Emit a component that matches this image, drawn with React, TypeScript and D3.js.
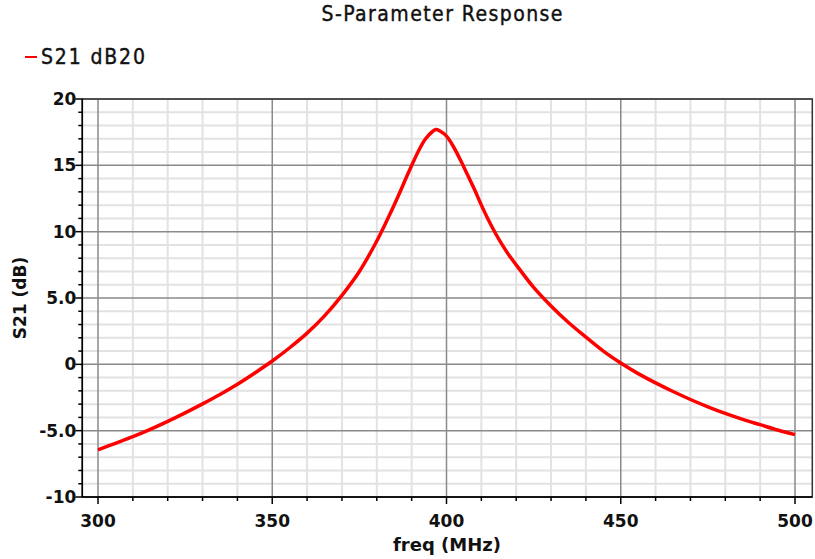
import React from "react";
import * as d3 from "d3";

const freqs = [300,305,310,315,320,325,330,335,340,345,350,355,360,365,370,375,380,383,386,389,392,394,396,397,398,400,402,404,406,408,410,412,414,416,418,420,425,430,435,440,445,450,455,460,465,470,475,480,485,490,495,500];
const s21 = [-6.45,-5.95,-5.45,-4.9,-4.3,-3.66,-2.98,-2.27,-1.5,-0.65,0.25,1.25,2.35,3.65,5.2,7.0,9.3,10.9,12.6,14.4,16.1,17.0,17.55,17.7,17.6,17.2,16.4,15.4,14.3,13.2,12.0,10.9,9.9,9.0,8.2,7.5,5.8,4.4,3.15,2.05,1.0,0.1,-0.7,-1.4,-2.05,-2.65,-3.2,-3.7,-4.15,-4.55,-4.95,-5.3];

const xMajorTicks = [300, 350, 400, 450, 500];
const xTickLabels = ["300", "350", "400", "450", "500"];
const yMajorTicks = [-10, -5, 0, 5, 10, 15, 20];
const yTickLabels = ["-10", "-5.0", "0", "5.0", "10", "15", "20"];

const title = "S-Parameter Response";
const legendLabel = "S21 dB20";
const xTitle = "freq (MHz)";
const yTitle = "S21 (dB)";

export default function App() {
  const W = 815, H = 559;
  const left = 82.3, right = 812.3, top = 99, bottom = 497;
  const x = d3.scaleLinear().domain([300, 500]).range([98, 795]);
  const y = d3.scaleLinear().domain([-10, 20]).range([bottom, top]);
  const xMinor = d3.range(310, 500, 10).filter((v) => v % 50 !== 0);
  const yMinor = d3.range(-9, 20, 1).filter((v) => v % 5 !== 0);
  const data = freqs.map((f, i) => [f, s21[i]] as [number, number]);
  const line = d3.line<[number, number]>().x((d) => x(d[0])).y((d) => y(d[1])).curve(d3.curveCatmullRom.alpha(0.5));
  const font = "'DejaVu Sans', sans-serif";
  const condFont = "'DejaVu Sans Condensed', 'DejaVu Sans', sans-serif";
  return (
    <svg width={W} height={H} style={{ position: "absolute", left: 0, top: 0, background: "#fff" }}>
      <rect x={0} y={0} width={W} height={H} fill="#fff" />
      <text x={442} y={21} textAnchor="middle" fontFamily={condFont} fontSize={21} fill="#111" stroke="#111" strokeWidth={0.4} textLength={241} lengthAdjust="spacing">{title}</text>
      <line x1={25} x2={37} y1={57} y2={57} stroke="#ff0000" strokeWidth={2} />
      <text x={41} y={64} fontFamily={condFont} fontSize={21} fill="#111" stroke="#111" strokeWidth={0.4} textLength={104} lengthAdjust="spacing">{legendLabel}</text>
      {/* minor grid */}
      {xMinor.map((v) => (
        <line key={"xm" + v} x1={x(v)} x2={x(v)} y1={top} y2={bottom} stroke="#e2e2e2" strokeWidth={2} />
      ))}
      {yMinor.map((v) => (
        <line key={"ym" + v} x1={left} x2={right} y1={y(v)} y2={y(v)} stroke="#e2e2e2" strokeWidth={2} />
      ))}
      {/* major grid */}
      {xMajorTicks.map((v) => (
        <line key={"xM" + v} x1={x(v)} x2={x(v)} y1={top} y2={bottom} stroke="#8a8a8a" strokeWidth={1.5} />
      ))}
      {yMajorTicks.map((v) => (
        <line key={"yM" + v} x1={left} x2={right} y1={y(v)} y2={y(v)} stroke="#8a8a8a" strokeWidth={1.5} />
      ))}
      <rect x={left} y={top} width={right - left} height={bottom - top} fill="none" stroke="#333" strokeWidth={1.5} />
      {/* ticks */}
      {yMajorTicks.map((v) => (
        <line key={"yt" + v} x1={left - 7} x2={left} y1={y(v)} y2={y(v)} stroke="#000" strokeWidth={1.5} />
      ))}
      {yMinor.map((v) => (
        <line key={"ytm" + v} x1={left - 4} x2={left} y1={y(v)} y2={y(v)} stroke="#000" strokeWidth={1.5} />
      ))}
      {xMajorTicks.map((v) => (
        <line key={"xt" + v} x1={x(v)} x2={x(v)} y1={bottom} y2={bottom + 7} stroke="#000" strokeWidth={1.5} />
      ))}
      {xMinor.map((v) => (
        <line key={"xtm" + v} x1={x(v)} x2={x(v)} y1={bottom} y2={bottom + 4} stroke="#000" strokeWidth={1.5} />
      ))}
      <line x1={left} x2={left} y1={top} y2={bottom} stroke="#000" strokeWidth={1.5} />
      <line x1={left} x2={right} y1={bottom} y2={bottom} stroke="#000" strokeWidth={1.5} />
      {/* tick labels */}
      {yMajorTicks.map((v, i) => (
        <text key={"yl" + v} x={left - 6} y={y(v) + 6} textAnchor="end" fontFamily={font} fontSize={17} fontWeight="bold" fill="#111">{yTickLabels[i]}</text>
      ))}
      {xMajorTicks.map((v, i) => (
        <text key={"xl" + v} x={x(v)} y={527} textAnchor="middle" fontFamily={font} fontSize={17} fontWeight="bold" fill="#111">{xTickLabels[i]}</text>
      ))}
      <text x={447} y={551} textAnchor="middle" fontFamily={font} fontSize={18} fontWeight="bold" fill="#111">{xTitle}</text>
      <text transform="translate(26,298) rotate(-90)" textAnchor="middle" fontFamily={font} fontSize={17} fontWeight="bold" fill="#111">{yTitle}</text>
      <path d={line(data) || ""} fill="none" stroke="#ff0000" strokeWidth={3.5} strokeLinejoin="round" />
    </svg>
  );
}
